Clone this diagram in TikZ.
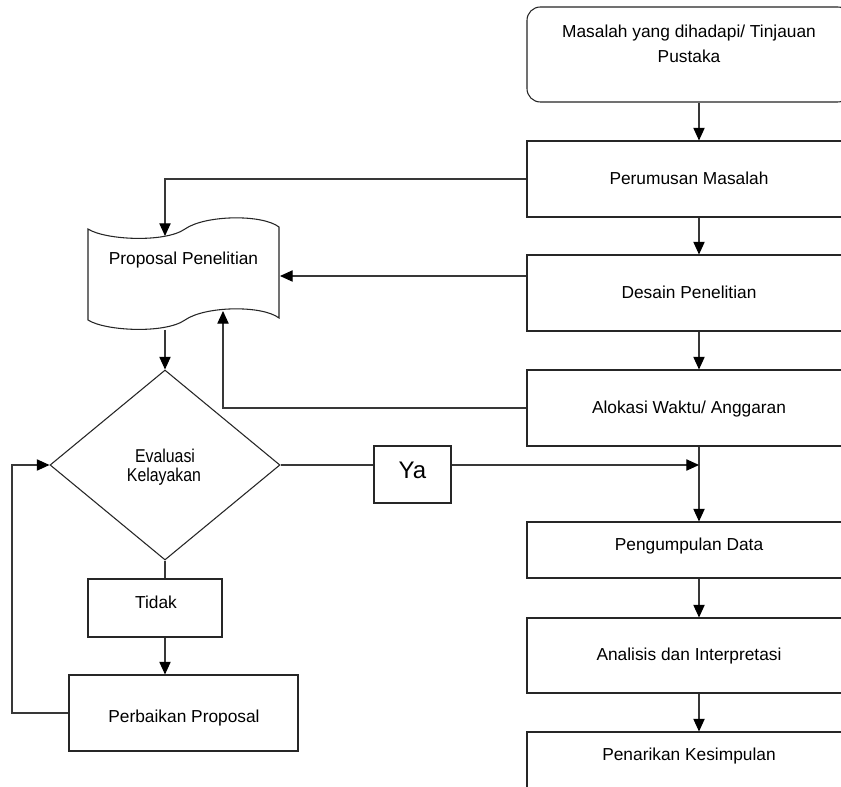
\documentclass[tikz,border=0pt]{standalone}
\usepackage{graphicx}
\usepackage{fontspec}
\setmainfont{Liberation Sans}
\usetikzlibrary{arrows.meta,shapes.geometric}
\newcommand\tallish[1]{\scalebox{1}[1.17]{#1}}
\begin{document}
\begin{tikzpicture}[x=0.75pt,y=-0.75pt,
  line/.style={draw=black!78,line width=0.8pt},
  arr/.style={line,-{Triangle[length=9.5pt,width=8.5pt,color=black]}},
  box/.style 2 args={rectangle,draw=black!85,line width=0.8pt,inner sep=0pt,
    minimum width=#1pt,minimum height=#2pt},
  lbl/.style={anchor=base,inner sep=0pt,font=\fontsize{13}{15}\selectfont},
  small/.style={anchor=base,inner sep=0pt,font=\fontsize{11.9}{14}\selectfont},
  big/.style={anchor=base,inner sep=0pt,font=\fontsize{18}{21}\selectfont}]

\useasboundingbox (0,0) rectangle (841,787);
\clip (0,0) rectangle (841,787);
\fill[white] (0,0) rectangle (841,787);

% right-hand column of steps
\node[box={243}{71.25},rounded corners=10pt] (masalah) at (689,54.5) {};
\node[box={243}{57}] (perumusan) at (689,179) {};
\node[box={243}{57}] (desain) at (689,293) {};
\node[box={243}{57}] (alokasi) at (689,408) {};
\node[box={243}{42}] (pengumpulan) at (689,550) {};
\node[box={243}{56.25}] (analisis) at (689,655.5) {};
\node[box={243}{57}] (penarikan) at (689,770) {};

\node[lbl] (tmasalah1) at (689,38) {Masalah yang dihadapi/ Tinjauan};
\node[lbl] (tmasalah2) at (689,63) {Pustaka};
\node[lbl] (tperumusan) at (689,185) {Perumusan Masalah};
\node[lbl] (tdesain) at (689,299) {Desain Penelitian};
\node[lbl] (talokasi) at (689,413) {Alokasi Waktu/ Anggaran};
\node[lbl] (tpengumpulan) at (689,550) {Pengumpulan Data};
\node[lbl] (tanalisis) at (689,660) {Analisis dan Interpretasi};
\node[lbl] (tpenarikan) at (689,760) {Penarikan Kesimpulan};

% proposal document (punched-tape outline)
\draw[draw=black!85,line width=0.8pt]
  (88,229) .. controls (105,240) and (165,243) .. (185,229)
           .. controls (205,215) and (262,214) .. (279,227)
  -- (279,318)
           .. controls (262,305) and (205,306) .. (185,320)
           .. controls (165,334) and (105,331) .. (88,320)
  -- cycle;
\node[lbl] (tproposal) at (183.5,265) {Proposal Penelitian};
\coordinate (docin1) at (165,236);
\coordinate (docin2) at (280,276);
\coordinate (docin3) at (223,311);
\coordinate (docout) at (165,330);

% decision and its branches
\node[diamond,draw=black!85,line width=0.8pt,inner sep=0pt,
  minimum width=172.5pt,minimum height=142.5pt] (cek) at (165,465) {};
\node[small] (teval1) at (165,462) {\tallish{Evaluasi}};
\node[small] (teval2) at (164,481) {\tallish{Kelayakan}};

\node[box={57.75}{42.75}] (ya) at (412.5,474.5) {};
\node[big] (tya) at (412.5,478) {Ya};

\node[box={100.5}{43.5}] (tidak) at (155,608) {};
\node[lbl] (ttidak) at (156,608) {Tidak};

\node[box={171.75}{57}] (perbaikan) at (183.5,713) {};
\node[lbl] (tperbaikan) at (184,722) {Perbaikan Proposal};

% connectors
\coordinate (col) at (699,0);
\coordinate (loopx) at (12,0);

\draw[arr] (col |- masalah.south) -- (col |- perumusan.north);
\draw[arr] (col |- perumusan.south) -- (col |- desain.north);
\draw[arr] (col |- desain.south) -- (col |- alokasi.north);
\draw[arr] (col |- alokasi.south) -- (col |- pengumpulan.north);
\draw[arr] (col |- pengumpulan.south) -- (col |- analisis.north);
\draw[arr] (col |- analisis.south) -- (col |- penarikan.north);

\draw[arr] (perumusan.west) -| (docin1);
\draw[arr] (docin2 -| desain.west) -- (docin2);
\draw[arr] (alokasi.west) -| (docin3);
\draw[arr] (docout) -- (cek.north);

\draw[line] (cek.east) -- (cek.east -| ya.west);
\draw[arr] (cek.east -| ya.east) -- (cek.east -| col);

\draw[line] (cek.south) -- (cek.south |- tidak.north);
\draw[arr] (cek.south |- tidak.south) -- (cek.south |- perbaikan.north);
\draw[arr] (perbaikan.west) -- (loopx |- perbaikan.west) |- (cek.west);

\end{tikzpicture}
\end{document}
